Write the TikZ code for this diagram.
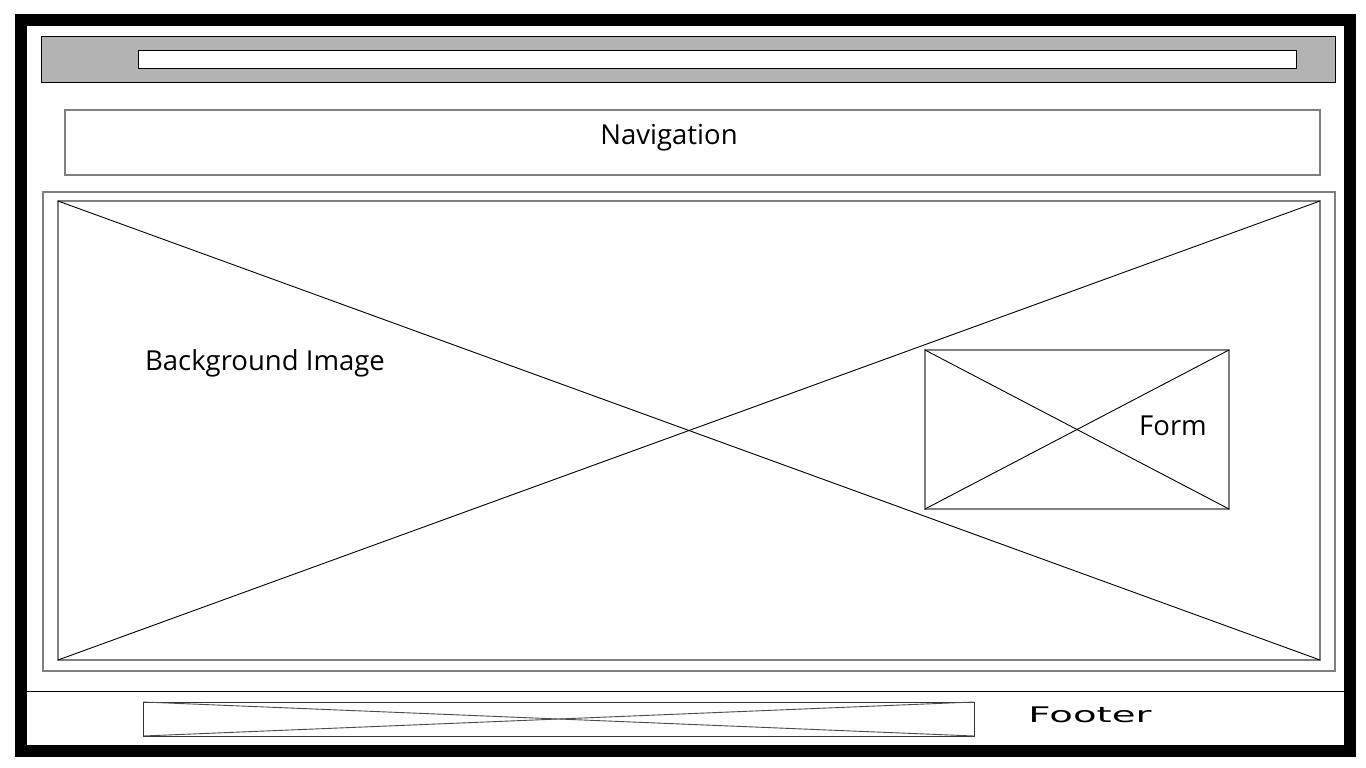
\documentclass[tikz,border=0pt]{standalone}
\usepackage{fontspec}
\setmainfont{Open Sans}
\newfontfamily\footfont{DejaVu Sans}
\definecolor{bargray}{HTML}{B3B3B3}
\definecolor{edgegray}{HTML}{808080}
\begin{document}
\begin{tikzpicture}[x=1pt,y=-1pt,
  box/.style={draw=edgegray, line width=1.3pt, inner sep=0pt, outer sep=0pt, anchor=north west},
  blackbox/.style={draw=black, line width=1pt, inner sep=0pt, outer sep=0pt, anchor=north west},
  cross/.style={draw=black, line width=0.9pt},
  lbl/.style={font=\fontsize{27.5}{30}\selectfont, inner sep=0pt}]
\useasboundingbox[fill=white] (0,0) rectangle (1366,768);
% outer frame
\node[draw=black, line width=12pt, inner sep=0pt, outer sep=0pt, minimum width=1329pt, minimum height=731pt] (frame) at (685.5,385.5) {};
% top bar
\node[blackbox, fill=bargray, minimum width=1294pt, minimum height=46pt] (topbar) at (41,37) {};
\node[blackbox, fill=white, minimum width=1158pt, minimum height=18pt] (urlbar) at (138,51) {};
% navigation
\node[box, minimum width=1255pt, minimum height=65pt] (nav) at (65,110) {};
\node[lbl] (navtext) at (669,138) {Navigation};
% main area
\node[box, minimum width=1292pt, minimum height=479pt] (main) at (43,192) {};
\node[box, minimum width=1262pt, minimum height=459pt] (img) at (58,201) {};
\draw[cross] (img.north west) -- (img.south east);
\draw[cross] (img.south west) -- (img.north east);
\node[lbl] (bgtext) at (265,363) {Background Image};
% form
\node[box, fill=white, minimum width=304pt, minimum height=159pt] (form) at (925,350) {};
\draw[cross] (form.north west) -- (form.south east);
\draw[cross] (form.south west) -- (form.north east);
\node[lbl] (formtext) at (1173,426) {Form};
% footer
\coordinate (fl) at (27,691);
\coordinate (fr) at (1344,691);
\draw[black, line width=1pt] (fl) -- (fr);
\node[blackbox, draw=black!80, minimum width=831pt, minimum height=34pt] (foot) at (143,702) {};
\draw[black!70, line width=0.9pt] (foot.north west) -- (foot.south east);
\draw[black!70, line width=0.9pt] (foot.south west) -- (foot.north east);
\node[inner sep=0pt, font=\footfont\fontsize{21.5}{24}\selectfont, xscale=1.8] (foottext) at (1090,715) {Footer};
\end{tikzpicture}
\end{document}
